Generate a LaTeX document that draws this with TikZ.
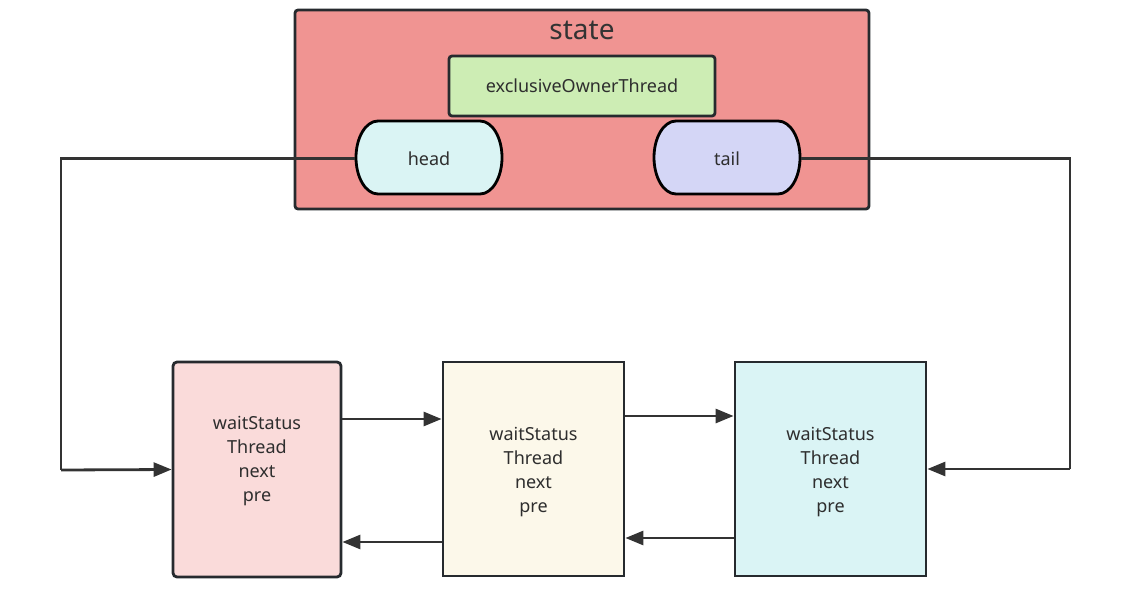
\documentclass[tikz,border=0pt]{standalone}
\usepackage{fontspec}
\setmainfont{Noto Sans}
\usetikzlibrary{arrows.meta}
\definecolor{stroke}{HTML}{262A2E}
\definecolor{lineC}{HTML}{333333}
\definecolor{stateC}{HTML}{F09492}
\definecolor{ownerC}{HTML}{CDEDB4}
\definecolor{headC}{HTML}{DAF4F4}
\definecolor{tailC}{HTML}{D4D6F6}
\definecolor{nodeA}{HTML}{FADBDA}
\definecolor{nodeB}{HTML}{FCF8EA}
\definecolor{nodeC}{HTML}{DAF4F5}
\newcommand\mystadium[3]{%
  \draw[stroke, line width=2.8pt, fill=#3]
    ({#1-51},{#2-36.5}) -- ({#1+51},{#2-36.5})
    arc[start angle=-90, end angle=90, x radius=22, y radius=36.5]
    -- ({#1-51},{#2+36.5})
    arc[start angle=90, end angle=270, x radius=22, y radius=36.5] -- cycle;}
\begin{document}
\begin{tikzpicture}[x=1pt,y=-1pt,
  box/.style={draw=stroke, line width=2.8pt, inner sep=0pt, font=\fontsize{18}{24}\selectfont, align=center, text=black!82},
  arr/.style={draw=lineC, line width=2.8pt, -{Triangle[length=18pt,width=14pt]}},
  conn/.style={draw=lineC, line width=2.8pt}]
\useasboundingbox (0,0) rectangle (1132,596);
% state container
\node[box, fill=stateC, rounded corners=3pt, minimum width=574pt, minimum height=199pt] (state) at (582,109.5) {};
\node[font=\fontsize{28}{30}\selectfont, text=black!80] (statelbl) at (582,30) {state};
\node[box, fill=ownerC, rounded corners=3pt, minimum width=266pt, minimum height=60pt] (owner) at (582,86) {exclusiveOwnerThread};
% head and tail
\mystadium{429}{157.5}{headC}
\mystadium{727}{157.5}{tailC}
\node[box, draw=none, minimum width=146pt, minimum height=73pt] (head) at (429,158.5) {head};
\node[box, draw=none, minimum width=146pt, minimum height=73pt] (tail) at (727,158.5) {tail};
% queue nodes
\node[box, fill=nodeA, rounded corners=4pt, minimum width=168pt, minimum height=215pt] (b1) at (257,469.5) {};
\node[box, draw=none] (b1txt) at (257,461) {waitStatus\\Thread\\next\\pre};
\node[box, fill=nodeB, minimum width=181pt, minimum height=214pt] (b2) at (533.5,469) {};
\node[box, draw=none] (b2txt) at (533.5,472) {waitStatus\\Thread\\next\\pre};
\node[box, fill=nodeC, minimum width=191pt, minimum height=214pt] (b3) at (830.5,469) {};
\node[box, draw=none] (b3txt) at (830.5,472) {waitStatus\\Thread\\next\\pre};
% helper coordinates
\coordinate (cL) at (61,470);
\coordinate (cR) at (1070,469);
\coordinate (yA) at (0,419);
\coordinate (yB) at (0,416);
\coordinate (yC) at (0,538);
\coordinate (yD) at (0,542);
% connectors
\draw[conn] (head.west) -| (cL);
\draw[arr] (cL) -- (b1.west);
\draw[conn] (tail.east) -| (cR);
\draw[arr] (cR) -- (b3.east);
\draw[arr] (b1.east |- yA) -- (b2.west |- yA);
\draw[arr] (b2.east |- yB) -- (b3.west |- yB);
\draw[arr] (b3.west |- yC) -- (b2.east |- yC);
\draw[arr] (b2.west |- yD) -- (b1.east |- yD);
\end{tikzpicture}
\end{document}
